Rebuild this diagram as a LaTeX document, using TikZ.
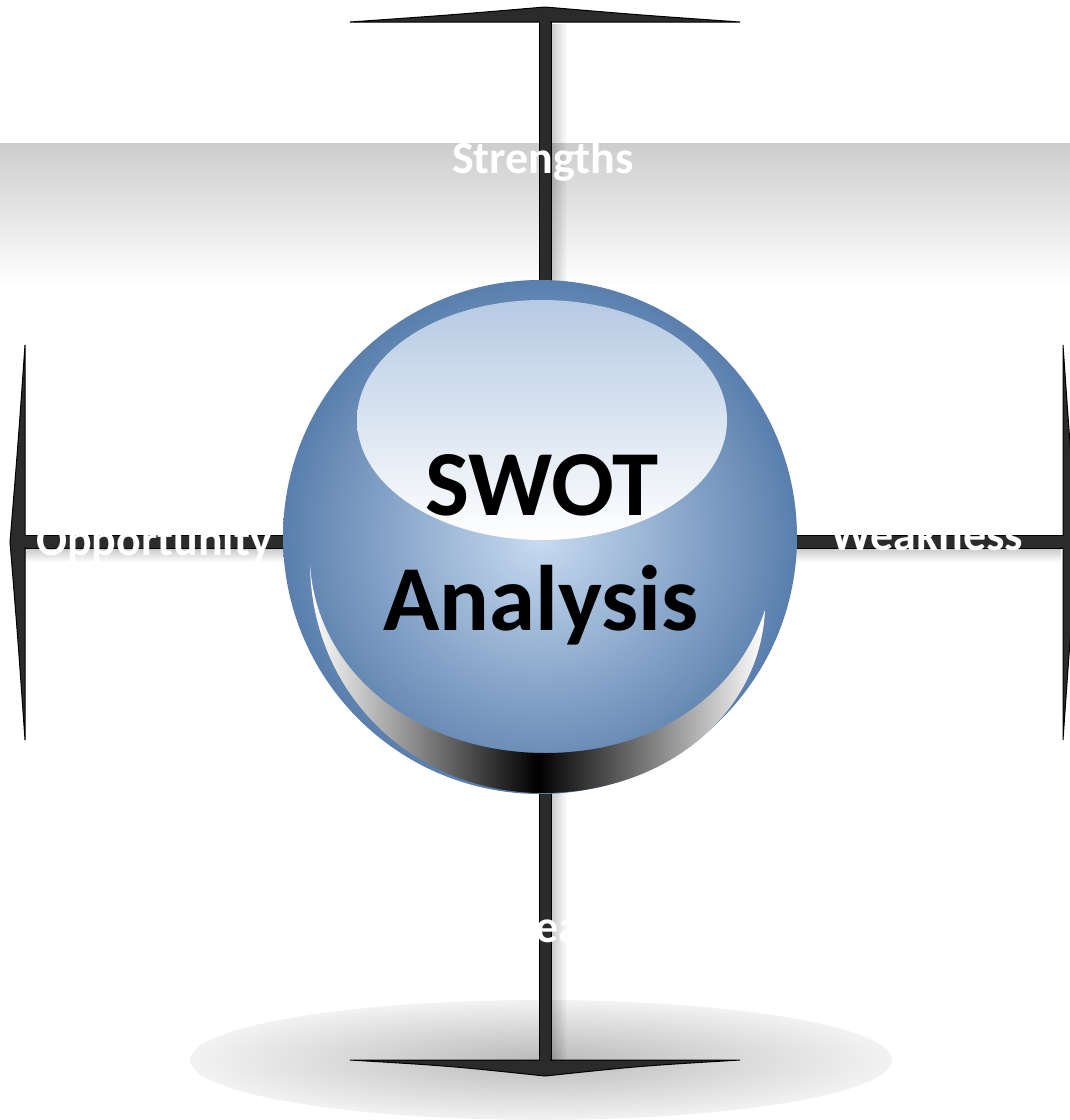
\documentclass[tikz,border=0pt]{standalone}
\usepackage{fontspec}
\setmainfont{Carlito}
\usetikzlibrary{fadings}
\definecolor{barfill}{HTML}{2B2B2B}
\definecolor{bandgray}{HTML}{CDCDCD}
\definecolor{ballin}{HTML}{C8DBF1}
\definecolor{ballout}{HTML}{5A7FAD}
\definecolor{hltop}{HTML}{B6CAE3}
\tikzset{
  bar/.style={fill=barfill, draw=black, line width=1pt, line join=miter},
  softshadow/.style={fill=black, opacity=0.22},
  lbl/.style={text=white, font=\bfseries\fontsize{46}{52}\selectfont, inner sep=0pt, anchor=base},
  title/.style={text=black, font=\bfseries\fontsize{93}{100}\selectfont, inner sep=0pt, anchor=base}
}
\begin{document}
\begin{tikzpicture}[x=1pt,y=-1pt]
\useasboundingbox (0,0) rectangle (1070,1120);

% grey band behind the top label
\shade[top color=bandgray, bottom color=white] (0,143) rectangle (1070,285);
% floor shadow under the lower arrow
\shade[inner color=black!27, outer color=black!5] (541,1060) ellipse (351 and 60);

% soft shadows of the axes
\path[softshadow, path fading=east] (551,22) rectangle (567,1060);
\path[softshadow, path fading=south] (25,548) rectangle (1063,562);

% vertical axis with arrow heads
\path[bar] (539,20) rectangle (551,1062);
\path[bar] (350,22) .. controls (450,15) .. (545,7) .. controls (640,15) .. (740,22) -- cycle;
\path[bar] (350,1060) .. controls (450,1066) .. (545,1076) .. controls (640,1066) .. (740,1060) -- cycle;
\fill[barfill] (540,17) rectangle (550,28);
\fill[barfill] (540,1054) rectangle (550,1065);

% horizontal axis with arrow heads
\path[bar] (22,535) rectangle (1066,548);
\path[bar] (25,345) .. controls (18,445) .. (10,542) .. controls (18,640) .. (25,740) -- cycle;
\path[bar] (1063,345) .. controls (1070,445) .. (1078,542) .. controls (1070,640) .. (1063,740) -- cycle;
\fill[barfill] (20,536) rectangle (30,547);
\fill[barfill] (1058,536) rectangle (1068,547);

% quadrant labels
\node[lbl] (strengths) at (543,173) {Strengths};
\node[lbl] (opportunity) at (154,555) {Opportunity};
\node[lbl] (weakness) at (927,550) {Weakness};
\node[lbl] (threats) at (544,942) {Threats};

% central ball
\shade[inner color=ballin, outer color=ballout] (540,537) circle (257);
% lower rim reflection
\shade[left color=white, right color=white, middle color=black]
  (310,565) .. controls (312,700) and (420,793) .. (542,793)
  .. controls (665,793) and (760,715) .. (765,610)
  .. controls (735,700) and (650,753) .. (545,753)
  .. controls (425,753) and (318,680) .. (310,565) -- cycle;
% top highlight
\shade[top color=hltop, bottom color=white] (542,420) ellipse (185 and 120);

% title
\node[title] (swot) at (542,515) {SWOT};
\node[title] (analysis) at (541,630) {Analysis};
\end{tikzpicture}
\end{document}
